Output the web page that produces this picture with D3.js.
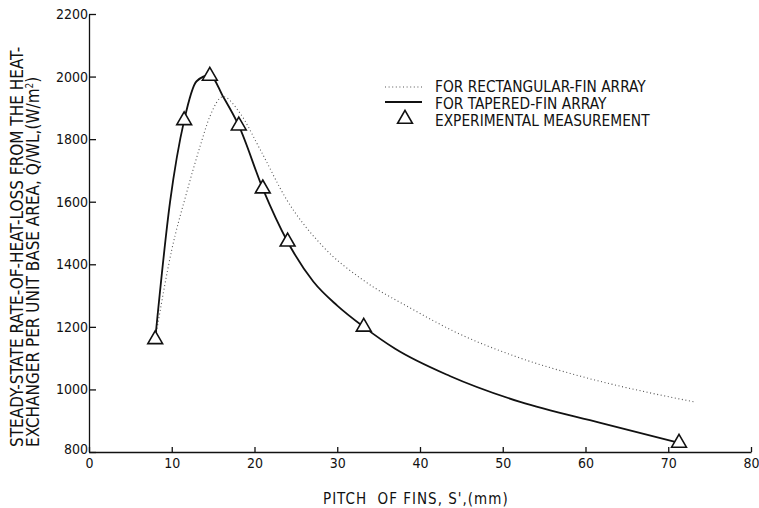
<!DOCTYPE html>
<html lang="en">
  <head>
    <meta charset="UTF-8" />
    <title>Heat loss vs fin pitch</title>
    <script src="https://d3js.org/d3.v7.min.js"></script>
    <style>
      body { margin: 0; background: #fff; }
      text { font-family: 'DejaVu Sans Condensed', sans-serif; fill: #111; }
      .axis path, .axis line { stroke: #111; stroke-width: 1.3; }
      .axis text { font-size: 14px; }
    </style>
  </head>
  <body>
    <div id="chart"></div>
    <script>
      // pitch of fins (mm) vs heat loss (W/m^2)
      const expPitch = [8.0, 11.5, 14.6, 18.1, 21.0, 24.0, 33.2, 71.3]
      const expHeat = [1160, 1860, 2002, 1843, 1642, 1472, 1200, 829]

      const taperedPitch = [8.0, 9.8, 11.5, 13.0, 14.6, 16.2, 18.1, 21.0, 24.0, 27.1, 30.0, 33.2, 37.0, 43.6, 52.1, 61.8, 71.3]
      const taperedHeat = [1160, 1600, 1860, 1985, 2005, 1936, 1843, 1642, 1472, 1345, 1268, 1200, 1130, 1043, 960, 893, 829]

      const rectPitch = [8.0, 10.0, 11.8, 13.4, 14.6, 16.2, 18.2, 20.7, 23.9, 28.3, 33.1, 39.2, 44.0, 51.7, 59.7, 67.8, 73.2]
      const rectHeat = [1160, 1446, 1629, 1775, 1872, 1936, 1885, 1766, 1606, 1456, 1350, 1255, 1187, 1104, 1040, 989, 960]

      const xTicks = [0, 10, 20, 30, 40, 50, 60, 70, 80]
      const yTicks = [800, 1000, 1200, 1400, 1600, 1800, 2000, 2200]

      const legendLabels = ['FOR RECTANGULAR-FIN ARRAY', 'FOR TAPERED-FIN ARRAY', 'EXPERIMENTAL MEASUREMENT']

      const width = 759
      const height = 508

      const svg = d3
        .select('#chart')
        .append('svg')
        .attr('width', width)
        .attr('height', height)

      const x = d3.scaleLinear().domain([0, 80]).range([89, 751])
      const y = d3.scaleLinear().domain([800, 2200]).range([452, 14])

      svg
        .append('g')
        .attr('class', 'axis')
        .attr('transform', `translate(0,${y(800)})`)
        .call(d3.axisBottom(x).tickValues(xTicks).tickFormat(d3.format('d')).tickSizeInner(-5).tickSizeOuter(0).tickPadding(6))

      const yAxis = svg
        .append('g')
        .attr('class', 'axis')
        .attr('transform', `translate(${x(0)},0)`)
        .call(d3.axisLeft(y).tickValues(yTicks).tickFormat(d3.format('d')).tickSizeInner(-7).tickSizeOuter(0).tickPadding(1))
      // lowest label sits a little higher so it clears the x labels
      yAxis.selectAll('.tick text').filter(d => d === 800).attr('dy', '0.1em')

      const line = d3
        .line()
        .x(d => x(d[0]))
        .y(d => y(d[1]))
        .curve(d3.curveMonotoneX)

      svg
        .append('path')
        .datum(d3.zip(rectPitch, rectHeat))
        .attr('d', line)
        .attr('fill', 'none')
        .attr('stroke', '#555')
        .attr('stroke-width', 1.1)
        .attr('stroke-dasharray', '1,2.6')

      svg
        .append('path')
        .datum(d3.zip(taperedPitch, taperedHeat))
        .attr('d', line)
        .attr('fill', 'none')
        .attr('stroke', '#111')
        .attr('stroke-width', 1.8)

      const tri = d3.symbol().type(d3.symbolTriangle).size(95)

      svg
        .selectAll('.exp')
        .data(d3.zip(expPitch, expHeat))
        .enter()
        .append('path')
        .attr('class', 'exp')
        .attr('d', tri)
        .attr('transform', d => `translate(${x(d[0])},${y(d[1])})`)
        .attr('fill', '#fff')
        .attr('stroke', '#111')
        .attr('stroke-width', 1.6)

      // legend
      const lg = svg.append('g').attr('transform', 'translate(385,0)')
      lg.append('line').attr('x1', 0).attr('x2', 37).attr('y1', 87).attr('y2', 87)
        .attr('stroke', '#555').attr('stroke-width', 1.1).attr('stroke-dasharray', '1,2.6')
      lg.append('line').attr('x1', 0).attr('x2', 37).attr('y1', 102).attr('y2', 102)
        .attr('stroke', '#111').attr('stroke-width', 1.8)
      lg.append('path').attr('d', tri).attr('transform', 'translate(20,119)')
        .attr('fill', '#fff').attr('stroke', '#111').attr('stroke-width', 1.6)
      lg.selectAll('.lgt')
        .data(legendLabels)
        .enter()
        .append('text')
        .attr('x', 50)
        .attr('y', (d, i) => 92 + i * 17)
        .style('font-size', '15.3px')
        .text(d => d)

      // axis titles
      svg
        .append('text')
        .attr('x', 323)
        .attr('y', 504)
        .style('white-space', 'pre')
        .style('font-size', '15px')
        .style('letter-spacing', '1px')
        .text("PITCH  OF FINS, S',(mm)")

      const yt = svg.append('text').attr('transform', 'translate(23,447) rotate(-90)').style('font-size', '17px')
      yt.append('tspan').attr('x', 0).attr('y', 0).text('STEADY-STATE RATE-OF-HEAT-LOSS FROM THE HEAT-')
      const l2 = yt.append('tspan').attr('x', 0).attr('y', 16)
      l2.append('tspan').text('EXCHANGER PER UNIT BASE AREA, Q\u0307/WL,(W/m')
      l2.append('tspan').attr('dy', -6).style('font-size', '10px').text('2')
      l2.append('tspan').attr('dy', 6).text(')')
    </script>
  </body>
</html>
